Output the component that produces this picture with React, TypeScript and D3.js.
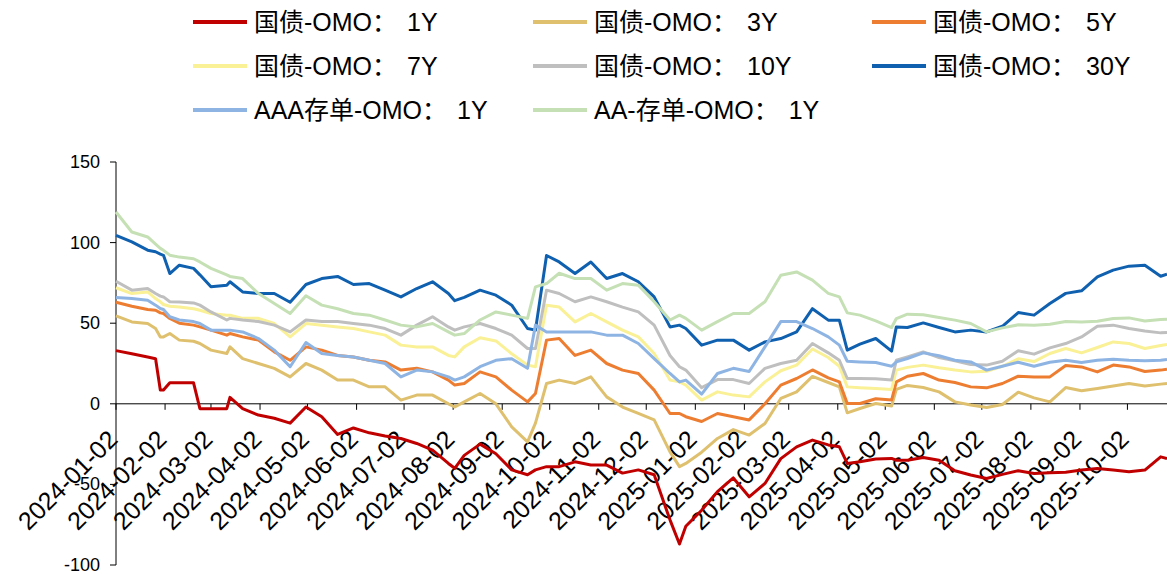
import React from 'react';
import * as d3 from 'd3';

const dates = [
  '2024-01-02','2024-01-12','2024-01-22','2024-01-27','2024-01-30','2024-02-01','2024-02-05','2024-02-11','2024-02-20','2024-02-24',
  '2024-03-02','2024-03-12','2024-03-14','2024-03-22','2024-04-01','2024-04-11','2024-04-21','2024-05-01','2024-05-11','2024-05-21',
  '2024-05-31','2024-06-10','2024-06-20','2024-06-30','2024-07-10','2024-07-20','2024-07-30','2024-08-03','2024-08-09','2024-08-19',
  '2024-08-29','2024-09-08','2024-09-18','2024-09-23','2024-09-30','2024-10-08','2024-10-18','2024-10-28','2024-11-07','2024-11-17',
  '2024-11-27','2024-12-07','2024-12-17','2024-12-23','2024-12-27','2025-01-06','2025-01-16','2025-01-26','2025-02-05','2025-02-15',
  '2025-02-25','2025-03-07','2025-03-17','2025-03-27','2025-04-03','2025-04-08','2025-04-16','2025-04-26','2025-05-06','2025-05-09',
  '2025-05-16','2025-05-26','2025-06-05','2025-06-15','2025-06-25','2025-07-05','2025-07-15','2025-07-25','2025-08-04','2025-08-14',
  '2025-08-24','2025-09-03','2025-09-13','2025-09-23','2025-10-03','2025-10-13','2025-10-23','2025-10-27'
];

const gz1Y = [33,31,29,28,8.5,8.5,13,13,13,-3,-3,-3,4,-3,-7,-9,-12,-2,-8,-19,-15,-18,-20,-21.5,-24.6,-28.7,-37,-40,-32,-25,-31,-41,-44,-41,-39,-39,-36,-38,-38,-43,-41,-44,-72,-87,-76,-66,-54.5,-46,-57.7,-49.4,-34,-26.7,-22.5,-25.5,-26.7,-37,-36,-34.3,-33.9,-35,-35,-33.3,-35,-41.5,-44.2,-46.3,-43.8,-41.5,-43.2,-42.8,-42.4,-41.1,-40.1,-41.1,-42.1,-41.1,-32.9,-33.9];
const gz3Y = [54.5,50.8,49.8,46.7,41.5,41.5,43.6,39.5,38.8,37.4,33.3,31.2,35.3,28,25,22,16.7,25,20.9,14.7,14.7,10.5,10.5,2.3,5.4,5.4,0,-2,1.2,6.4,0,-14.3,-23.6,-12,12.6,14.7,12.6,16.7,4.3,-2,-6,-10,-29.8,-39,-37,-30,-21.5,-16,-19.4,-12.2,3.3,7.4,17,13.2,10.5,-5.6,-2.9,0.2,-1.4,8.9,11.4,10.1,7.4,1.2,-0.8,-2.3,-0.4,7.2,3.7,1.2,10.1,8.1,9.5,11,12.6,11,12.2,12.6];
const gz5Y = [63,60.5,58.5,58,56.4,56,52.9,50,48.8,47.7,45.7,42.6,43.6,41.5,39.5,32.2,27,35.3,33.3,30,29,27,26,20.9,22,19.8,14.7,11.6,12.6,19.8,16.7,8.5,1.2,6.4,39.5,40.5,30,33.3,25,20.9,18.8,8.5,-6,-6,-8,-11,-6,-8,-10,0,11.6,15.7,21,16.1,13.6,0.2,0.2,3.1,2.3,13.6,17.1,18.8,14.7,13.2,10.5,9.9,12.6,17.1,16.7,16.7,23.8,22.9,19.8,24,22.9,20,20.9,21.5];
const gz7Y = [72,68.4,69.4,65.3,63.3,61.6,60.5,60,59,58,56,55,55,53,53,49.8,41.5,49.8,48.8,47.7,46.7,44.6,42.6,36.4,35.3,35.3,30,29.1,35.3,41,39,31,24,23,61.2,60,50.8,56,50.8,45.7,41.5,31.2,14.7,13.6,11.6,2.3,7.4,5.4,4.3,13.6,20.5,24,34,28.7,23.3,10.5,10,9.5,8.9,20.9,22.6,24,22.3,20.9,19.8,20.2,23.3,27.9,26.2,31.2,34.3,31.6,34.9,38.4,37.4,34.3,36.2,36.8];
const gz10Y = [76,70.5,71.5,68.4,66.8,66.3,63.3,63.2,62.6,61.2,57,52,53,52,51,48.8,44.6,52,51,51,49.8,48.8,46.7,42.6,48.8,54,47.7,45.7,47.7,49.8,46.7,42.6,34.3,34.3,70.5,68.4,63.3,66.3,63.3,60,57,48.8,30,23,20.9,10,15,15,12.6,22,25,27,37.4,31.6,27,15.7,15.7,15.5,14.7,27,29.1,32.2,28.7,26.7,24.4,24,26.4,32.9,30.8,34.7,37.4,41.5,48.1,48.8,46.7,45.2,44,44.2];
const gz30Y = [104.5,100.4,95.3,94.3,92.8,92.1,80.8,86,84,80,72.6,73.6,75.7,69.4,68.4,68.4,63,74,77.7,79,74,74.6,70.5,66.3,71.5,75.7,68.4,64,66,70.5,67.4,61.2,46.7,45.7,92,88,80.8,88,77.7,80.8,75.7,66.3,47.7,48.8,46.7,36.4,39.5,39.5,33.3,38.4,40.5,44.6,59,51.9,51.9,33.3,37,40.5,32.7,47.7,47.3,50.2,47.3,44.6,45.7,44.6,48.1,56.6,55,62.2,68.5,70.1,78.8,82.9,85.4,86,79.1,80.4];
const aaaCd1Y = [66,65.3,64.3,61.2,59.1,58.5,54,52,51,49.8,45.7,45.7,45.7,44.6,40.5,33.3,23,38,31.2,30,29,27,25,16.7,20.9,19.8,16.7,14.7,16.7,23,27,28,22,48.8,44.6,44.6,44.6,44.6,42.6,42.6,37.4,28,18.8,13.6,14.7,6,18.8,22,20,35.3,51,51,46.7,41.5,36.4,26.4,26,25.6,23.3,26,28.1,31.6,29.8,27,26,20.9,23.3,25.8,23.3,25.8,27,25.6,27,27.7,27,26.7,27,27.5];
const aaCd1Y = [119,106.6,103.5,99,96.4,95.2,92.2,91,90,88,84,80,79,77.7,68.4,62.2,56,67,61.2,59,56,55,52,48.8,47.7,49.8,44.6,42.6,43.6,52,57,55,53,72.5,74.6,81,77.7,77.7,70.5,74.6,73.6,63.3,52,55,53,45.7,51,56,56,63.3,79.8,81.8,76.7,68.5,66.3,56.4,55,51.4,47.3,52.9,55.6,55.2,53.5,51.9,49.8,44.6,47.1,49,48.8,49.4,51.1,50.8,51.2,52.9,53.3,51.4,52.3,52.5];

const seriesNames = ['国债-OMO：1Y','国债-OMO：3Y','国债-OMO：5Y','国债-OMO：7Y','国债-OMO：10Y','国债-OMO：30Y','AAA存单-OMO：1Y','AA-存单-OMO：1Y'];
const seriesValues = [gz1Y, gz3Y, gz5Y, gz7Y, gz10Y, gz30Y, aaaCd1Y, aaCd1Y];
const seriesColors = ['#C00000','#DEC06E','#ED7D31','#FAF096','#BFBFBF','#1060B0','#8EB4E3','#C5E0B4'];

const xTickLabels = [
  '2024-01-02','2024-02-02','2024-03-02','2024-04-02','2024-05-02','2024-06-02','2024-07-02','2024-08-02','2024-09-02','2024-10-02','2024-11-02',
  '2024-12-02','2025-01-02','2025-02-02','2025-03-02','2025-04-02','2025-05-02','2025-06-02','2025-07-02','2025-08-02','2025-09-02','2025-10-02'
];
const yTicks = [-100, -50, 0, 50, 100, 150];

const FONT = "'Liberation Sans', Arial, 'Noto Sans CJK SC', sans-serif";

let measureCtx: CanvasRenderingContext2D | null = null;
function measure(text: string, size: number): number {
  if (!measureCtx) measureCtx = document.createElement('canvas').getContext('2d');
  if (!measureCtx) return text.length * size * 0.6;
  measureCtx.font = `${size}px ${FONT}`;
  return measureCtx.measureText(text).width;
}

export default function App() {
  const W = 1167, H = 574;
  const parse = d3.timeParse('%Y-%m-%d');
  const x = d3.scaleTime().domain([parse('2024-01-02') as Date, parse('2025-10-27') as Date]).range([116, 1167]);
  const y = d3.scaleLinear().domain([-100, 150]).range([565, 162]);
  const dts = dates.map(d => parse(d) as Date);
  const line = d3.line<number>().x((_, i) => x(dts[i])).y(v => y(v));
  const y0 = y(0);

  const legendCols = [193, 533, 872];
  const legendRows = [22, 66, 110];

  return (
    <svg width={W} height={H} style={{ position: 'absolute', left: 0, top: 0, background: '#fff' }} fontFamily={FONT}>
      <rect x={0} y={0} width={W} height={H} fill="#fff" />
      {/* legend */}
      {seriesNames.map((name, i) => {
        const cx = legendCols[i % 3];
        const cy = legendRows[Math.floor(i / 3)];
        const k = name.indexOf('：');
        const tx = cx + 61;
        const sx = tx + measure(name.slice(0, k), 25) + 35;
        return (
          <g key={name}>
            <line x1={cx} x2={cx + 54} y1={cy} y2={cy} stroke={seriesColors[i]} strokeWidth={4} />
            <text x={tx} y={cy} dominantBaseline="central" fontSize={25} fill="#000">
              <tspan>{name.slice(0, k + 1)}</tspan>
              <tspan x={sx}>{name.slice(k + 1)}</tspan>
            </text>
          </g>
        );
      })}
      {/* y axis */}
      <line x1={116} x2={116} y1={y(150)} y2={y(-100)} stroke="#000" strokeWidth={1} />
      {yTicks.map(t => (
        <g key={t}>
          <line x1={110} x2={116} y1={y(t)} y2={y(t)} stroke="#000" strokeWidth={1} />
          <text x={100} y={y(t)} textAnchor="end" dominantBaseline="central" fontSize={18} fill="#000">{t}</text>
        </g>
      ))}
      {/* x axis */}
      <line x1={116} x2={1167} y1={y0} y2={y0} stroke="#000" strokeWidth={1} />
      {xTickLabels.map(l => {
        const tx = x(parse(l) as Date);
        return (
          <g key={l}>
            <line x1={tx} x2={tx} y1={y0} y2={y0 + 6} stroke="#000" strokeWidth={1} />
            <text transform={`translate(${tx + 3},${441}) rotate(-45)`} textAnchor="end" fontSize={25} fill="#000">{l}</text>
          </g>
        );
      })}
      {/* series */}
      {seriesValues.map((vals, i) => (
        <path key={i} d={line(vals) || ''} fill="none" stroke={seriesColors[i]} strokeWidth={3} strokeLinejoin="round" />
      ))}
    </svg>
  );
}
